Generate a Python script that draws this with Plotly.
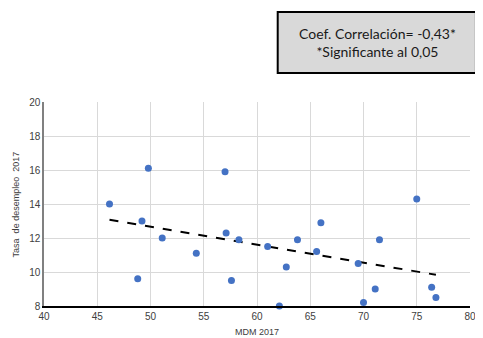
import numpy as np
import plotly.graph_objects as go

mdm = [46.15, 49.8, 49.2, 51.1, 48.8, 54.3, 57.0, 57.1, 58.3, 57.6,
       61.0, 63.8, 62.75, 66.0, 65.6, 62.1, 69.5, 71.5, 70.0, 71.1,
       75.0, 76.4, 76.8]
desempleo = [14.0, 16.1, 13.0, 12.0, 9.6, 11.1, 15.9, 12.3, 11.9, 9.5,
             11.5, 11.9, 10.3, 12.9, 11.2, 8.0, 10.5, 11.9, 8.2, 9.0,
             14.3, 9.1, 8.5]
x_ticks = [40, 45, 50, 55, 60, 65, 70, 75, 80]
y_ticks = [8, 10, 12, 14, 16, 18, 20]

slope, intercept = np.polyfit(mdm, desempleo, 1)
tx = [min(mdm), max(mdm)]
ty = [slope * v + intercept for v in tx]

# page body has an 8px margin; lay out in page pixels and shift
OFF = 8
W, H = 483 - OFF, 338 - OFF
PL, PT, PR, PB = 44, 102, 476, 306  # plot area in page pixels
L, T = PL - OFF, PT - OFF
pw, ph = PR - PL, PB - PT
R = W - L - pw
B = H - T - ph

def px(xp):
    return (xp - PL) / pw

def py(yp):
    return (PB - yp) / ph

fig = go.Figure()
fig.add_trace(go.Scatter(x=tx, y=ty, mode="lines",
                         line=dict(color="black", width=2, dash="dash"),
                         hoverinfo="skip", showlegend=False))
fig.add_trace(go.Scatter(x=mdm, y=desempleo, mode="markers",
                         marker=dict(color="#4472C4", size=7),
                         cliponaxis=False, showlegend=False))

FAM = "Liberation Sans Narrow, Liberation Sans, Arial"
tick_font = dict(family=FAM, size=10, color="#404040")

fig.update_xaxes(range=[40, 80], tickvals=x_ticks, ticks="", showgrid=True,
                 gridcolor="#d9d9d9", gridwidth=1, zeroline=False,
                 showline=True, linecolor="black", linewidth=1.5,
                 tickfont=tick_font, fixedrange=True)
fig.update_yaxes(range=[8, 20], tickvals=y_ticks, ticks="", showgrid=True,
                 gridcolor="#d9d9d9", gridwidth=1, zeroline=False,
                 showline=True, linecolor="#808080", linewidth=1.5,
                 tickfont=tick_font, fixedrange=True)

fig.add_shape(type="rect", xref="paper", yref="paper",
              x0=px(281), x1=px(482), y0=py(73), y1=py(12),
              fillcolor="#d9d9d9", line=dict(color="black", width=2), layer="above")

fig.add_annotation(xref="paper", yref="paper", x=px(382), y=py(42.5),
                   text="Coef. Correlación= -0,43*<br>*Significante al 0,05",
                   showarrow=False, xanchor="center", yanchor="middle", align="center",
                   font=dict(family="Lato, Noto Sans, Arial", size=14, color="#1a1a1a"))

fig.add_annotation(xref="paper", yref="paper", x=px(260), y=py(332),
                   text="MDM 2017", showarrow=False, xanchor="center", yanchor="middle",
                   font=dict(family=FAM, size=9, color="#404040"))
fig.add_annotation(xref="paper", yref="paper", x=px(16), y=py(204),
                   text="Tasa  de desempleo  2017", textangle=-90, showarrow=False,
                   xanchor="center", yanchor="middle",
                   font=dict(family=FAM, size=9, color="#404040"))

fig.update_layout(width=W, height=H, autosize=False,
                  margin=dict(l=L, r=R, t=T, b=B),
                  paper_bgcolor="white", plot_bgcolor="white",
                  showlegend=False)

fig.write_html("out.html")
